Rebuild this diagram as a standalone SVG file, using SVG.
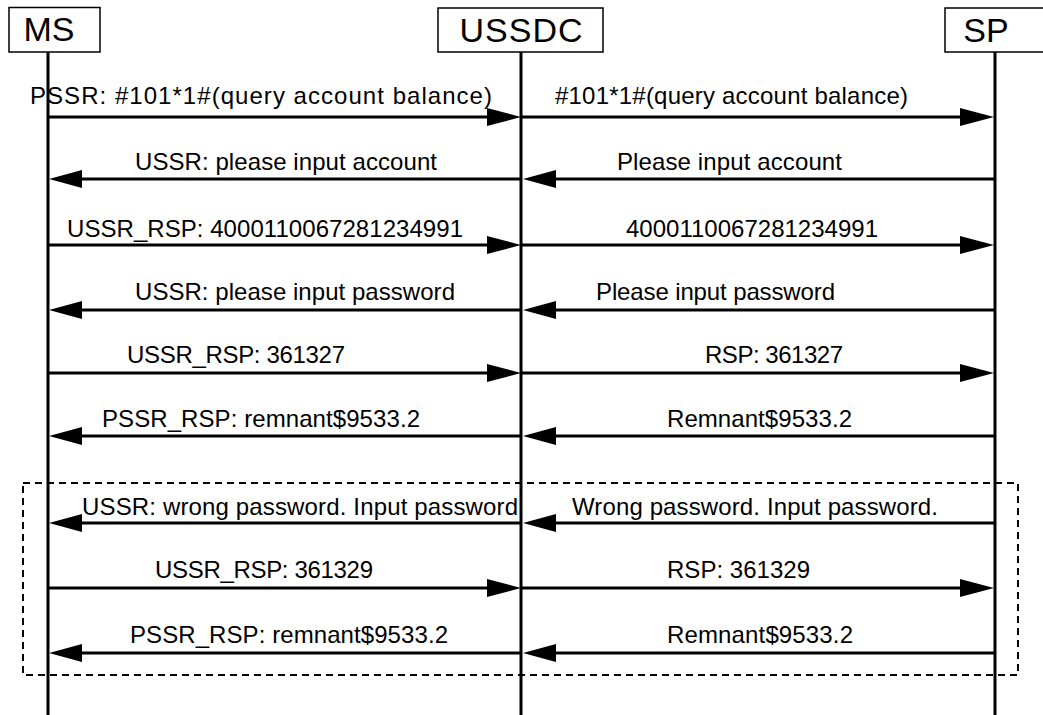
<svg xmlns="http://www.w3.org/2000/svg" width="1043" height="715" viewBox="0 0 1043 715">
<style>
.box{fill:#fff;stroke:#000;stroke-width:1.5}
.hd{font-family:"Liberation Sans",Arial,sans-serif;font-size:34px;fill:#000;text-anchor:middle}
.life{stroke:#000;stroke-width:3;fill:none}
.msg{stroke:#000;stroke-width:3;fill:none}
.head{fill:#000;stroke:none}
.lbl{font-family:"Liberation Sans",Arial,sans-serif;font-size:24px;fill:#000}
.frame{fill:none;stroke:#000;stroke-width:2;stroke-dasharray:7 5}
</style>
<rect width="1043" height="715" fill="#fff"/>
<g id="frame"><rect class="frame" x="23" y="483" width="995" height="192"/></g>
<g id="node-ms">
<line class="life" x1="48" y1="52" x2="48" y2="715"/>
<rect class="box" x="9" y="7.5" width="91" height="44.5"/>
<text class="hd" x="49" y="41">MS</text>
</g>
<g id="node-ussdc">
<line class="life" x1="521" y1="52" x2="521" y2="715"/>
<rect class="box" x="438" y="8" width="165" height="44"/>
<text class="hd" x="521" y="42" textLength="123">USSDC</text>
</g>
<g id="node-sp">
<line class="life" x1="995" y1="52" x2="995" y2="715"/>
<rect class="box" x="945" y="8" width="100" height="44"/>
<text class="hd" x="986" y="42">SP</text>
</g>
<g id="connectors">
<!-- row 1 -->
<line class="msg" x1="48" y1="117" x2="490" y2="117"/><polygon class="head" points="521,117 487,108 487,126"/>
<line class="msg" x1="521" y1="117" x2="964" y2="117"/><polygon class="head" points="994,117 960,108 960,126"/>
<!-- row 2 -->
<line class="msg" x1="995" y1="179" x2="555" y2="179"/><polygon class="head" points="523,179 556,170 556,188"/>
<line class="msg" x1="521" y1="179" x2="82" y2="179"/><polygon class="head" points="49,179 82,170 82,188"/>
<!-- row 3 -->
<line class="msg" x1="48" y1="245" x2="490" y2="245"/><polygon class="head" points="521,245 487,236 487,254"/>
<line class="msg" x1="521" y1="245" x2="964" y2="245"/><polygon class="head" points="994,245 960,236 960,254"/>
<!-- row 4 -->
<line class="msg" x1="995" y1="310" x2="555" y2="310"/><polygon class="head" points="523,310 556,301 556,319"/>
<line class="msg" x1="521" y1="310" x2="82" y2="310"/><polygon class="head" points="49,310 82,301 82,319"/>
<!-- row 5 -->
<line class="msg" x1="48" y1="373" x2="490" y2="373"/><polygon class="head" points="521,373 487,364 487,382"/>
<line class="msg" x1="521" y1="373" x2="964" y2="373"/><polygon class="head" points="994,373 960,364 960,382"/>
<!-- row 6 -->
<line class="msg" x1="995" y1="436" x2="555" y2="436"/><polygon class="head" points="523,436 556,427 556,445"/>
<line class="msg" x1="521" y1="436" x2="82" y2="436"/><polygon class="head" points="49,436 82,427 82,445"/>
<!-- row 7 -->
<line class="msg" x1="995" y1="523" x2="555" y2="523"/><polygon class="head" points="523,523 556,514 556,532"/>
<line class="msg" x1="521" y1="523" x2="82" y2="523"/><polygon class="head" points="49,523 82,514 82,532"/>
<!-- row 8 -->
<line class="msg" x1="48" y1="588" x2="490" y2="588"/><polygon class="head" points="521,588 487,579 487,597"/>
<line class="msg" x1="521" y1="588" x2="964" y2="588"/><polygon class="head" points="994,588 960,579 960,597"/>
<!-- row 9 -->
<line class="msg" x1="995" y1="653" x2="555" y2="653"/><polygon class="head" points="523,653 556,644 556,662"/>
<line class="msg" x1="521" y1="653" x2="82" y2="653"/><polygon class="head" points="49,653 82,644 82,662"/>
</g>
<g id="labels">
<text class="lbl" x="30" y="104" textLength="462">PSSR: #101*1#(query account balance)</text>
<text class="lbl" x="555" y="104" textLength="353">#101*1#(query account balance)</text>
<text class="lbl" x="135" y="170" textLength="302">USSR: please input account</text>
<text class="lbl" x="617" y="170" textLength="225">Please input account</text>
<text class="lbl" x="67" y="237" textLength="396">USSR_RSP: 4000110067281234991</text>
<text class="lbl" x="626" y="237" textLength="252">4000110067281234991</text>
<text class="lbl" x="135" y="300" textLength="320">USSR: please input password</text>
<text class="lbl" x="596" y="300" textLength="239">Please input password</text>
<text class="lbl" x="127" y="363" textLength="218">USSR_RSP: 361327</text>
<text class="lbl" x="705" y="363" textLength="138">RSP: 361327</text>
<text class="lbl" x="102" y="427" textLength="318">PSSR_RSP: remnant$9533.2</text>
<text class="lbl" x="667" y="427" textLength="185">Remnant$9533.2</text>
<text class="lbl" x="82" y="515" textLength="436">USSR: wrong password. Input password</text>
<text class="lbl" x="572" y="515" textLength="366">Wrong password. Input password.</text>
<text class="lbl" x="155" y="578" textLength="218">USSR_RSP: 361329</text>
<text class="lbl" x="667" y="578" textLength="143">RSP: 361329</text>
<text class="lbl" x="130" y="643" textLength="318">PSSR_RSP: remnant$9533.2</text>
<text class="lbl" x="667" y="643" textLength="186">Remnant$9533.2</text>
</g>
</svg>
